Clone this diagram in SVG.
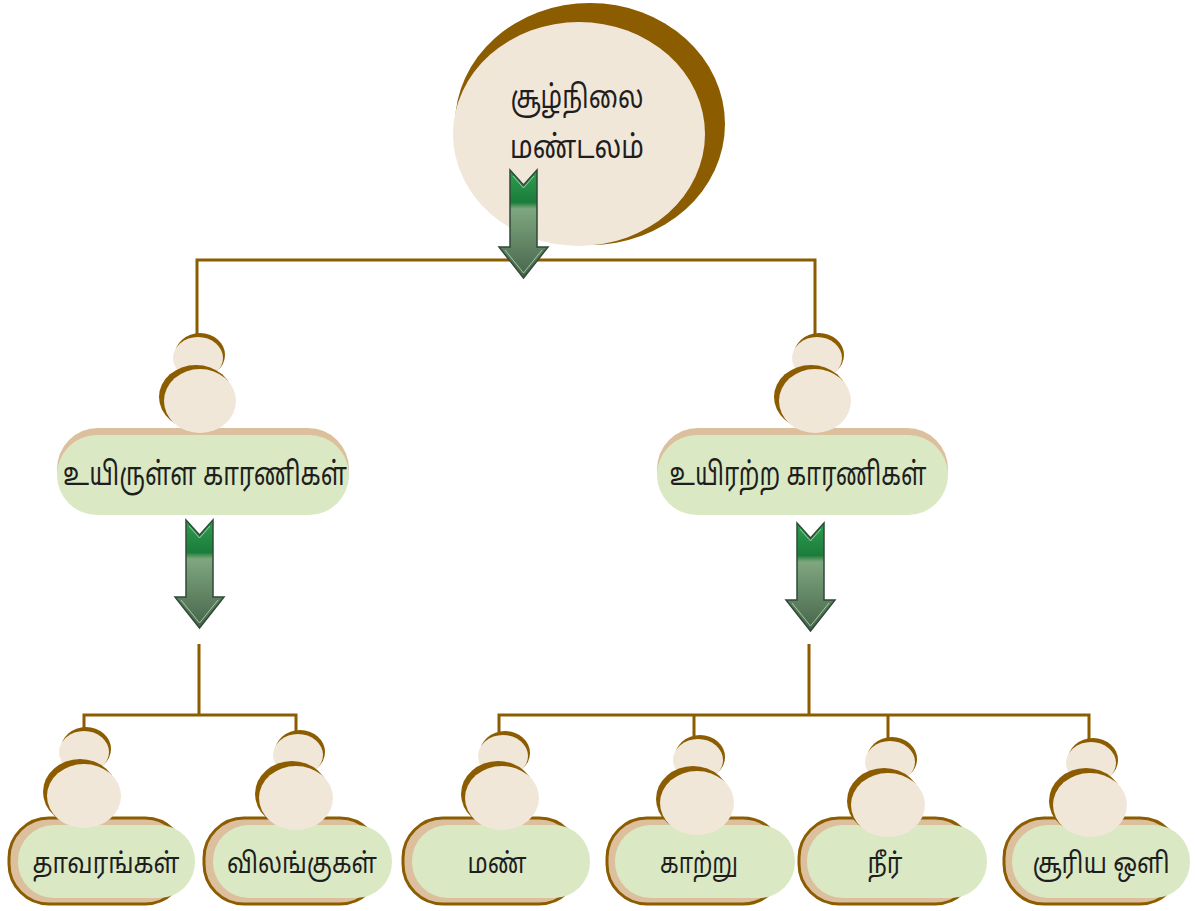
<svg xmlns="http://www.w3.org/2000/svg" width="1195" height="911" viewBox="0 0 1195 911">
<defs>
<style>
.ln{stroke:#8C5C00;stroke-width:3;fill:none}
.br{fill:#8C5C00}
.bg{fill:#F1E7D9}
.tan{fill:#DCC09E}
.tanb{fill:#DCC09E;stroke:#8C5C00;stroke-width:3}
.gr{fill:#DAE9C4}
.t{font-family:"Noto Sans Tamil","Noto Sans","Lohit Tamil",sans-serif;fill:#1E1E1E;text-anchor:middle}
.t1{font-size:32px}
.t2{font-size:28px}
</style>
<linearGradient id="ag" x1="0" y1="0" x2="0" y2="1">
<stop offset="0" stop-color="#2E9E50"/>
<stop offset="0.3" stop-color="#1B7C3A"/>
<stop offset="0.36" stop-color="#7FA77F"/>
<stop offset="1" stop-color="#46644A"/>
</linearGradient>
<g id="arrow">
<path d="M0,0 L13.5,15 L27,0 L27,77 L38,77 L13.5,108 L-11,77 L0,77 Z" fill="url(#ag)" stroke="#2F4A38" stroke-width="1.5"/>
<path d="M3,6 L13.5,18 L24,6 M-5,80 L13.5,103 L32,80" fill="none" stroke="#B8D8B8" stroke-width="1" opacity="0.8"/>
</g>
</defs>
<rect width="1195" height="911" fill="#FFFFFF"/>

<g id="connectors">
<path class="ln" d="M197,335 V260 H815 V335"/>
<path class="ln" d="M199,644 V715 M84,729 V715 H296 V732"/>
<path class="ln" d="M809,644 V715 M499,733 V715 H1089 V740 M694,715 V737 M888,715 V739"/>
</g>

<g id="root">
<ellipse class="br" cx="590" cy="124" rx="135" ry="121"/>
<ellipse class="bg" cx="579" cy="134" rx="126" ry="112"/>
<text class="t t1" x="577" y="108" textLength="133" lengthAdjust="spacingAndGlyphs">சூழ்நிலை</text>
<text class="t t1" x="577" y="158" textLength="134" lengthAdjust="spacingAndGlyphs">மண்டலம்</text>
<use href="#arrow" transform="translate(510,170)"/>
</g>

<g id="living">
<ellipse class="br" cx="200" cy="355" rx="25" ry="22"/>
<ellipse class="bg" cx="198" cy="358" rx="25" ry="21"/>
<rect class="tan" x="57" y="428" width="292" height="82" rx="41"/>
<rect class="gr" x="57" y="435" width="292" height="80" rx="40"/>
<ellipse class="br" cx="196" cy="397" rx="37" ry="32"/>
<ellipse class="bg" cx="200" cy="401" rx="36" ry="32"/>
<text class="t t1" x="205" y="485" textLength="284" lengthAdjust="spacingAndGlyphs">உயிருள்ள காரணிகள்</text>
<use href="#arrow" transform="translate(186,520)"/>
</g>

<g id="nonliving">
<ellipse class="br" cx="819" cy="355" rx="25" ry="22"/>
<ellipse class="bg" cx="817" cy="358" rx="25" ry="21"/>
<rect class="tan" x="657" y="428" width="291" height="82" rx="41"/>
<rect class="gr" x="657" y="435" width="291" height="80" rx="40"/>
<ellipse class="br" cx="811" cy="397" rx="37" ry="32"/>
<ellipse class="bg" cx="815" cy="401" rx="36" ry="32"/>
<text class="t t1" x="798" y="485" textLength="257" lengthAdjust="spacingAndGlyphs">உயிரற்ற காரணிகள்</text>
<use href="#arrow" transform="translate(797,523)"/>
</g>

<g id="plants">
<ellipse class="br" cx="86" cy="749" rx="25" ry="22"/>
<ellipse class="bg" cx="84" cy="752" rx="25" ry="21"/>
<rect class="tanb" x="9" y="818" width="176" height="86" rx="40"/>
<rect class="gr" x="18" y="825" width="177" height="73" rx="36"/>
<ellipse class="br" cx="80" cy="792" rx="37" ry="33"/>
<ellipse class="bg" cx="84" cy="796" rx="37" ry="32"/>
<text class="t t2" x="106" y="873" textLength="147" lengthAdjust="spacingAndGlyphs">தாவரங்கள்</text>
</g>

<g id="animals">
<ellipse class="br" cx="300" cy="752" rx="25" ry="22"/>
<ellipse class="bg" cx="298" cy="755" rx="25" ry="21"/>
<rect class="tanb" x="204" y="818" width="176" height="86" rx="40"/>
<rect class="gr" x="213" y="825" width="179" height="73" rx="36"/>
<ellipse class="br" cx="292" cy="794" rx="37" ry="33"/>
<ellipse class="bg" cx="296" cy="798" rx="37" ry="32"/>
<text class="t t2" x="302" y="873" textLength="150" lengthAdjust="spacingAndGlyphs">விலங்குகள்</text>
</g>

<g id="soil">
<ellipse class="br" cx="505" cy="753" rx="25" ry="22"/>
<ellipse class="bg" cx="503" cy="756" rx="25" ry="21"/>
<rect class="tanb" x="403" y="818" width="176" height="86" rx="40"/>
<rect class="gr" x="412" y="825" width="178" height="73" rx="36"/>
<ellipse class="br" cx="498" cy="794" rx="37" ry="33"/>
<ellipse class="bg" cx="502" cy="798" rx="37" ry="32"/>
<text class="t t2" x="497" y="873" textLength="59" lengthAdjust="spacingAndGlyphs">மண்</text>
</g>

<g id="air">
<ellipse class="br" cx="700" cy="757" rx="25" ry="22"/>
<ellipse class="bg" cx="698" cy="760" rx="25" ry="21"/>
<rect class="tanb" x="607" y="818" width="176" height="86" rx="40"/>
<rect class="gr" x="615" y="825" width="180" height="73" rx="36"/>
<ellipse class="br" cx="693" cy="799" rx="37" ry="33"/>
<ellipse class="bg" cx="697" cy="803" rx="37" ry="32"/>
<text class="t t2" x="699" y="873" textLength="78" lengthAdjust="spacingAndGlyphs">காற்று</text>
</g>

<g id="water">
<ellipse class="br" cx="892" cy="759" rx="25" ry="22"/>
<ellipse class="bg" cx="890" cy="762" rx="25" ry="21"/>
<rect class="tanb" x="799" y="818" width="176" height="86" rx="40"/>
<rect class="gr" x="807" y="825" width="180" height="73" rx="36"/>
<ellipse class="br" cx="884" cy="801" rx="37" ry="33"/>
<ellipse class="bg" cx="888" cy="805" rx="37" ry="32"/>
<text class="t t2" x="885" y="873" textLength="35" lengthAdjust="spacingAndGlyphs">நீர்</text>
</g>

<g id="sunlight">
<ellipse class="br" cx="1093" cy="760" rx="25" ry="22"/>
<ellipse class="bg" cx="1091" cy="763" rx="25" ry="21"/>
<rect class="tanb" x="1004" y="818" width="176" height="86" rx="40"/>
<rect class="gr" x="1012" y="825" width="178" height="73" rx="36"/>
<ellipse class="br" cx="1086" cy="801" rx="37" ry="33"/>
<ellipse class="bg" cx="1090" cy="805" rx="37" ry="32"/>
<text class="t t2" x="1101" y="873" textLength="137" lengthAdjust="spacingAndGlyphs">சூரிய ஒளி</text>
</g>
</svg>
